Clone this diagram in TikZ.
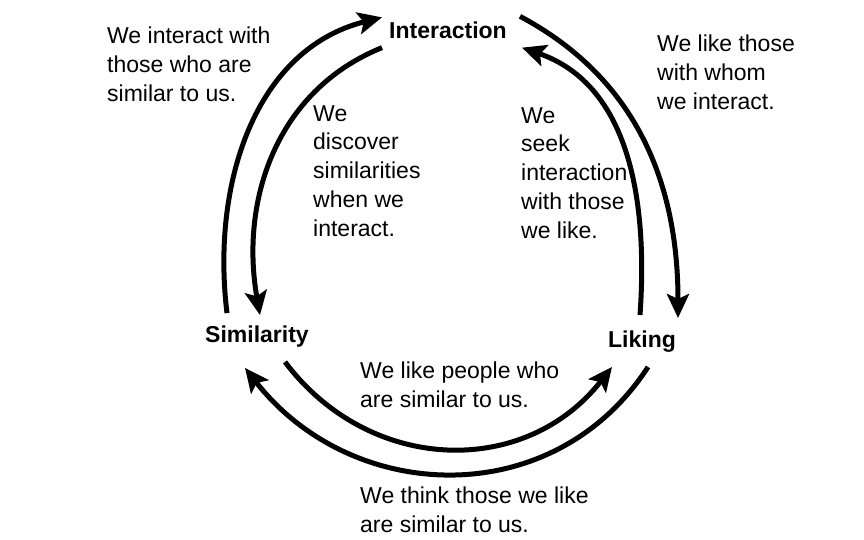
\documentclass[tikz,border=0pt]{standalone}
\usepackage{fontspec}
\setmainfont{Liberation Sans}
\usetikzlibrary{arrows.meta}

\tikzset{   concept/.style={font=\fontsize{23}{28.8}\selectfont\bfseries,inner sep=2pt},
            remark/.style={font=\fontsize{23}{28.8}\selectfont,align=left,anchor=north west,inner sep=0pt},
            flow/.style={line width=5pt,-{Stealth[length=24pt,width=22pt,inset=5pt]}},
}

\begin{document}
\begin{tikzpicture}[x=1pt,y=1pt]
    \useasboundingbox (0,0) rectangle (864,-539);

    \node[concept] (inter) at (448,-30) {Interaction};  % the three concepts
    \node[concept] (simil) at (257,-337) {Similarity};
    \node[concept] (liking) at (642,-342) {Liking};

    \node[remark] (simtoint) at (107,-27) {We interact with\\those who are\\similar to us.};  % remarks
    \node[remark] (inttolik) at (657,-35) {We like those\\with whom\\we interact.};
    \node[remark] (inttosim) at (313,-105) {We\\discover\\similarities\\when we\\interact.};
    \node[remark] (liktoint) at (521,-107) {We\\seek\\interaction\\with those\\we like.};
    \node[remark] (simtolik) at (360,-362) {We like people who\\are similar to us.};
    \node[remark] (liktosim) at (360,-487) {We think those we like\\are similar to us.};

    \draw[flow] ([shift={(-30,11)}]simil.north) to[out=97,in=194] ([shift={(-5,2)}]inter.north west);  % left pair
    \draw[flow] ([shift={(-5,-7)}]inter.south west) to[out=202,in=100] ([shift={(3,9)}]simil.north);

    \draw[flow] ([shift={(11,3)}]inter.north east) to[out=-28,in=90] ([shift={(36,11)}]liking.north);  % right pair
    \draw[flow] ([shift={(-2,14)}]liking.north) to[out=86,in=-19] ([shift={(13,-7)}]inter.south east);

    \draw[flow] ([shift={(28,-12)}]simil.south) to[out=-53,in=232,looseness=1.1] ([shift={(-30,-12)}]liking.south);  % bottom pair
    \draw[flow] ([shift={(6,-12)}]liking.south) to[out=237,in=-52,looseness=1.1] ([shift={(-12,-18)}]simil.south);
\end{tikzpicture}
\end{document}
